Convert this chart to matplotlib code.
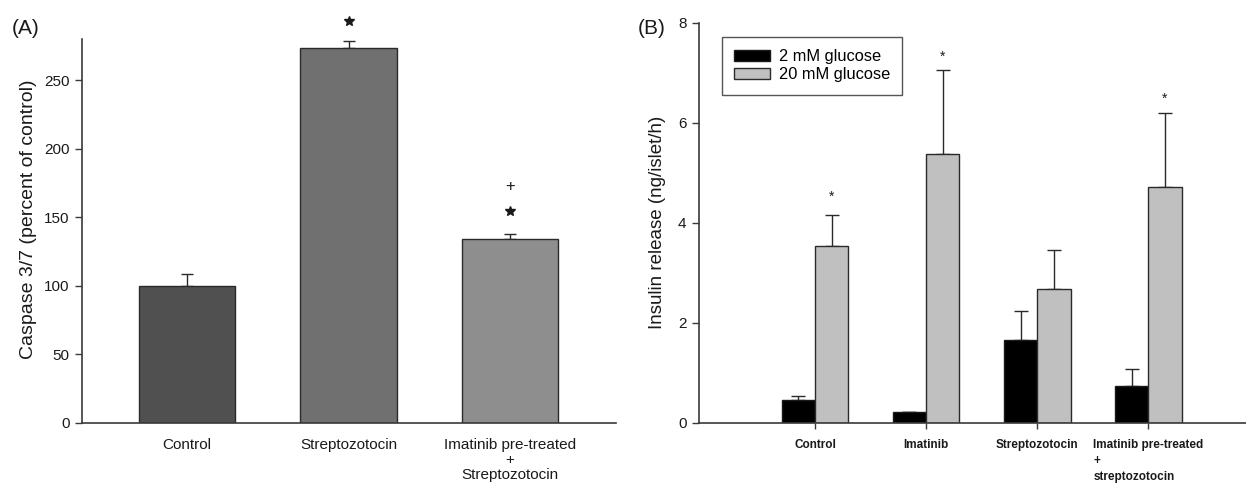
import matplotlib
matplotlib.use("Agg")
import matplotlib.pyplot as plt
import numpy as np

plt.rcParams['font.family'] = ['Liberation Sans', 'DejaVu Sans']

# Panel A data
a_categories = ["Control", "Streptozotocin", "Imatinib pre-treated\n+\nStreptozotocin"]
a_values = [100, 273.5, 134.5]
a_errors = [8.6, 5.0, 3.0]
a_colors = ["#505050", "#707070", "#8e8e8e"]
a_yticks = [0, 50, 100, 150, 200, 250]

# Panel B data
b_categories = ["Control", "Imatinib", "Streptozotocin", "Imatinib pre-treated\n+\nstreptozotocin"]
b_low = [0.45, 0.22, 1.65, 0.74]
b_low_err = [0.08, 0.0, 0.59, 0.33]
b_high = [3.54, 5.37, 2.68, 4.71]
b_high_err = [0.61, 1.68, 0.78, 1.48]
b_yticks = [0, 2, 4, 6, 8]
b_legend = ["2 mM glucose", "20 mM glucose"]

W, H = 1246, 483
fig = plt.figure(figsize=(W / 100, H / 100), dpi=100)

spine_col = "#3a3a3a"
txt_col = "#1a1a1a"

def fr(x0, y0, x1, y1):
    return [x0 / W, 1 - y1 / H, (x1 - x0) / W, (y1 - y0) / H]

# ---------------- Panel A ----------------
axA = fig.add_axes(fr(82, 39, 616, 423))
xa = np.arange(len(a_categories))
axA.bar(xa, a_values, width=0.6, color=a_colors, edgecolor="#2a2a2a", linewidth=1.0, zorder=2)
axA.errorbar(xa, a_values, yerr=[np.zeros(len(a_values)), a_errors], fmt="none",
             ecolor="#2a2a2a", elinewidth=1.0, capsize=4, capthick=1.0, zorder=1)
axA.set_xlim(-0.65, 2.656)
axA.set_ylim(0, 280)
axA.set_yticks(a_yticks)
axA.set_xticks(xa)
axA.set_xticklabels(a_categories, fontsize=11, color=txt_col, linespacing=1.08)
axA.tick_params(axis="x", length=0, pad=11)
axA.tick_params(axis="y", length=5, width=1.0, direction="out", labelsize=11, pad=4, colors=spine_col, labelcolor=txt_col)
for s in ["top", "right"]:
    axA.spines[s].set_visible(False)
for s in ["left", "bottom"]:
    axA.spines[s].set_color(spine_col)
    axA.spines[s].set_linewidth(1.2)
axA.set_ylabel("Caspase 3/7 (percent of control)", fontsize=14, color=txt_col, labelpad=5)
axA.yaxis.label.set_y(0.53)
axA.plot([1], [293.3], marker="*", markersize=7, color=txt_col, linestyle="none", clip_on=False)
axA.text(2, 172.8, "+", ha="center", va="center", fontsize=12, color=txt_col)
axA.plot([2], [154.8], marker="*", markersize=7, color=txt_col, linestyle="none")
fig.text(12 / W, 1 - 29 / H, "(A)", fontsize=15, color=txt_col, va="center", ha="left")

# ---------------- Panel B ----------------
axB = fig.add_axes(fr(699, 22.7, 1246, 422.7))
xb = np.arange(len(b_categories))
bw = 0.3
axB.bar(xb - bw / 2, b_low, width=bw, color="black", edgecolor="#1a1a1a", linewidth=1.0, label=b_legend[0], zorder=2)
axB.bar(xb + bw / 2, b_high, width=bw, color="#c0c0c0", edgecolor="#2a2a2a", linewidth=1.0, label=b_legend[1], zorder=2)
axB.errorbar(xb - bw / 2, b_low, yerr=[np.zeros(4), b_low_err], fmt="none",
             ecolor="#2a2a2a", elinewidth=1.0, capsize=5, capthick=1.0, zorder=1)
axB.errorbar(xb + bw / 2, b_high, yerr=[np.zeros(4), b_high_err], fmt="none",
             ecolor="#2a2a2a", elinewidth=1.0, capsize=5, capthick=1.0, zorder=1)
axB.set_xlim(-1.045, 3.88)
axB.set_ylim(0, 8)
axB.set_yticks(b_yticks)
axB.set_xticks(xb)
labs = axB.set_xticklabels(b_categories, fontsize=8.5, color=txt_col, linespacing=1.45, fontweight="bold")
for t in labs:
    t.set_verticalalignment("top")
    t.set_multialignment("left")
axB.tick_params(axis="x", length=4, width=1.0, direction="out", pad=8, colors=spine_col, labelcolor=txt_col)
axB.tick_params(axis="y", length=5, width=1.0, direction="out", labelsize=11, pad=4, colors=spine_col, labelcolor=txt_col)
for s in ["top", "right"]:
    axB.spines[s].set_visible(False)
for s in ["left", "bottom"]:
    axB.spines[s].set_color(spine_col)
    axB.spines[s].set_linewidth(1.2)
axB.set_ylabel("Insulin release (ng/islet/h)", fontsize=13.5, color=txt_col, labelpad=9)
for xi, yv in zip([0, 1, 3], [4.52, 7.32, 6.47]):
    axB.text(xi + bw / 2, yv, "*", ha="center", va="center", fontsize=10, color=txt_col)
leg = axB.legend(loc="upper left", bbox_to_anchor=(0.042, 0.965), fontsize=11.8, frameon=True,
                 fancybox=False, edgecolor="#2a2a2a", handlelength=2.2, handleheight=0.67,
                 borderpad=0.75, labelspacing=0.2, handletextpad=0.5, borderaxespad=0)
leg.get_frame().set_linewidth(1.0)
fig.text(638 / W, 1 - 29 / H, "(B)", fontsize=15, color=txt_col, va="center", ha="left")

fig.savefig("out.png", dpi=100)
